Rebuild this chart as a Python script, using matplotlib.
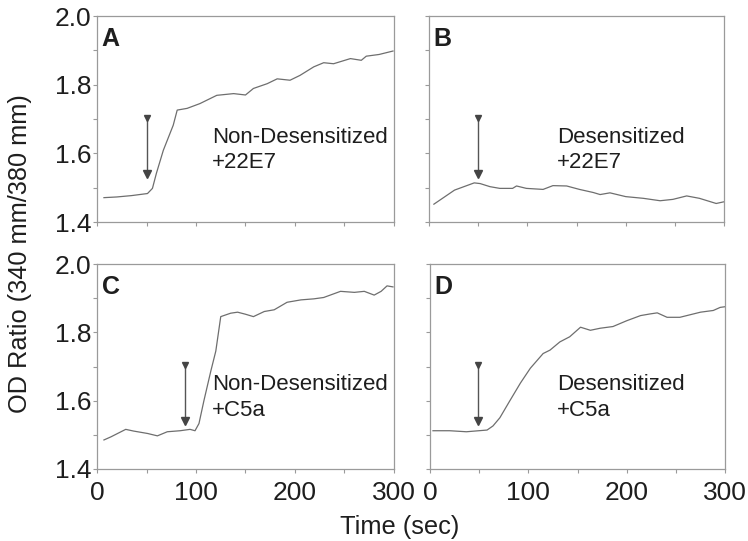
import matplotlib
matplotlib.use('Agg')
import matplotlib.pyplot as plt
from matplotlib.ticker import MultipleLocator, FormatStrFormatter, NullFormatter

plt.rcParams['font.family'] = ['Liberation Sans', 'DejaVu Sans']

# panel A: non-desensitized + 22E7
a_t = [7, 20, 35, 51, 56, 60, 67, 77, 81, 91, 104, 121, 138, 150, 158, 172, 182, 195, 205, 219, 229, 239, 256, 267, 272, 285, 299]
a_y = [1.471, 1.473, 1.477, 1.483, 1.498, 1.542, 1.609, 1.682, 1.726, 1.731, 1.745, 1.769, 1.774, 1.770, 1.789, 1.803, 1.817, 1.813, 1.827, 1.852, 1.864, 1.861, 1.876, 1.871, 1.883, 1.888, 1.898]

# panel B: desensitized + 22E7
b_t = [5, 26, 46, 52, 62, 72, 85, 89, 99, 116, 126, 140, 153, 167, 174, 184, 200, 218, 235, 248, 262, 275, 292, 300]
b_y = [1.452, 1.493, 1.514, 1.512, 1.503, 1.498, 1.498, 1.505, 1.498, 1.495, 1.506, 1.505, 1.495, 1.486, 1.480, 1.485, 1.474, 1.469, 1.462, 1.466, 1.476, 1.469, 1.454, 1.459]

# panel C: non-desensitized + C5a
c_t = [7, 14, 29, 37, 51, 61, 71, 84, 94, 99, 103, 108, 115, 120, 125, 135, 142, 150, 158, 169, 179, 192, 206, 219, 229, 246, 260, 270, 280, 287, 293, 299]
c_y = [1.485, 1.494, 1.516, 1.511, 1.504, 1.497, 1.509, 1.512, 1.516, 1.512, 1.533, 1.600, 1.687, 1.745, 1.846, 1.856, 1.859, 1.853, 1.846, 1.861, 1.866, 1.888, 1.895, 1.898, 1.902, 1.920, 1.917, 1.920, 1.909, 1.920, 1.936, 1.933]

# panel D: desensitized + C5a
d_t = [3, 20, 37, 58, 64, 71, 81, 92, 102, 115, 122, 132, 142, 153, 163, 173, 186, 200, 214, 224, 231, 241, 254, 261, 275, 288, 295, 300]
d_y = [1.512, 1.512, 1.509, 1.514, 1.526, 1.550, 1.599, 1.652, 1.695, 1.738, 1.748, 1.772, 1.787, 1.815, 1.806, 1.812, 1.817, 1.834, 1.849, 1.854, 1.857, 1.844, 1.844, 1.849, 1.859, 1.864, 1.873, 1.875]

letters = ['A', 'B', 'C', 'D']
labels = ['Non-Desensitized\n+22E7', 'Desensitized\n+22E7', 'Non-Desensitized\n+C5a', 'Desensitized\n+C5a']
arrow_t = [51, 50, 89, 49]
arrow_top = 1.704
arrow_bottom = 1.540
label_t = [116, 130, 116, 129]

series = [(a_t, a_y), (b_t, b_y), (c_t, c_y), (d_t, d_y)]

fig = plt.figure(figsize=(7.48, 5.41), dpi=100)
rects = [[0.1297, 0.5896, 0.397, 0.3808],
         [0.5735, 0.5896, 0.3945, 0.3808],
         [0.1297, 0.1331, 0.397, 0.3789],
         [0.5749, 0.1331, 0.3945, 0.3789]]

spine_col = '#9a9a9a'
txt_col = '#1e1e1e'

for i in range(4):
    ax = fig.add_axes(rects[i])
    t, y = series[i]
    ax.plot(t, y, color='#6e6e6e', lw=0.9)
    ax.plot([arrow_t[i], arrow_t[i]], [arrow_top, arrow_bottom], color='#555555', lw=1.0)
    ax.plot([arrow_t[i]], [arrow_top], marker='v', color='#444444', ms=5)
    ax.plot([arrow_t[i]], [arrow_bottom], marker='v', color='#444444', ms=6)
    ax.set_xlim(0, 300)
    ax.set_ylim(1.4, 2.0)
    ax.xaxis.set_major_locator(MultipleLocator(100))
    ax.xaxis.set_minor_locator(MultipleLocator(50))
    ax.yaxis.set_major_locator(MultipleLocator(0.2))
    ax.yaxis.set_minor_locator(MultipleLocator(0.1))
    ax.yaxis.set_major_formatter(FormatStrFormatter('%.1f'))
    ax.tick_params(which='both', direction='out', length=3, width=0.8, color=spine_col,
                   labelsize=19, labelcolor=txt_col)
    ax.tick_params(axis='y', pad=1)
    ax.tick_params(axis='x', pad=6)
    for s in ax.spines.values():
        s.set_color(spine_col)
        s.set_linewidth(0.9)
    if i < 2:
        ax.xaxis.set_major_formatter(NullFormatter())
    if i % 2 == 1:
        ax.yaxis.set_major_formatter(NullFormatter())
    ax.text(0.016, 0.945, letters[i], transform=ax.transAxes, fontsize=18,
            fontweight='bold', va='top', ha='left', color=txt_col)
    ax.text(label_t[i], 1.61, labels[i], fontsize=16, va='center', ha='left',
            color=txt_col, linespacing=1.3)

fig.text(0.027, 0.532, 'OD Ratio (340 mm/380 mm)', rotation=90, fontsize=18.3,
         va='center', ha='center', color=txt_col)
fig.text(0.535, 0.026, 'Time (sec)', fontsize=18.3, va='center', ha='center', color=txt_col)

plt.savefig('out.png', dpi=100)
plt.close()
